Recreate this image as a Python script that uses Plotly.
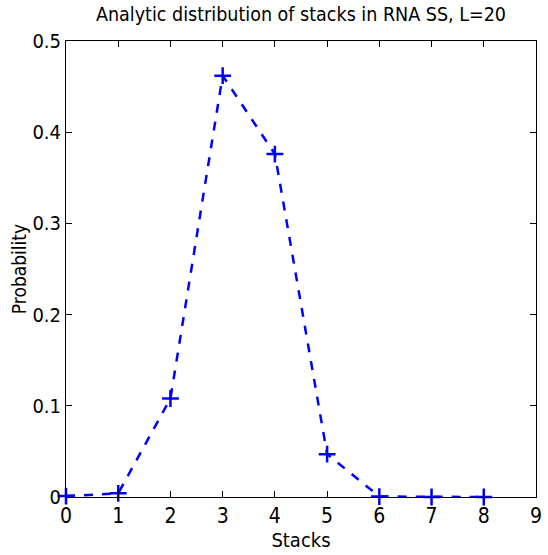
import plotly.graph_objects as go

stacks = [0, 1, 2, 3, 4, 5, 6, 7, 8]
probability = [0.001, 0.004, 0.108, 0.462, 0.376, 0.047, 0.0005, 0.0, 0.0]
x_ticks = [0, 1, 2, 3, 4, 5, 6, 7, 8, 9]
y_ticks = [0, 0.1, 0.2, 0.3, 0.4, 0.5]
y_tick_text = ["0", "0.1", "0.2", "0.3", "0.4", "0.5"]

FONT = "DejaVu Sans Condensed, Liberation Sans Narrow, Liberation Sans, Arial, sans-serif"

fig = go.Figure()
fig.add_trace(go.Scatter(
    x=stacks, y=probability, mode="lines+markers",
    line=dict(color="#0000ff", width=2.5, dash="dash"),
    marker=dict(symbol="cross-thin", size=12, line=dict(color="#0000ff", width=2.5)),
    cliponaxis=False, showlegend=False,
))

fig.update_layout(
    width=548, height=555,
    margin=dict(l=66, r=6, t=41, b=58),
    paper_bgcolor="white", plot_bgcolor="white",
    font=dict(family=FONT, color="black"),
    title=dict(text="Analytic distribution of stacks in RNA SS, L=20",
               xref="paper", x=0.5, xanchor="center", y=0.986, yanchor="top",
               font=dict(size=19.5, family=FONT)),
)
fig.update_xaxes(
    range=[0, 9], tickvals=x_ticks, ticks="inside", ticklen=6, tickcolor="black",
    showline=True, linecolor="black", linewidth=1, mirror="allticks",
    showgrid=False, zeroline=False, tickfont=dict(size=21, family=FONT),
    ticklabeloverflow="allow",
    title=dict(text="Stacks", font=dict(size=20, family=FONT), standoff=4),
)
fig.update_yaxes(
    range=[0, 0.5], tickvals=y_ticks, ticktext=y_tick_text, ticks="inside", ticklen=6,
    tickcolor="black", showline=True, linecolor="black", linewidth=1, mirror="allticks",
    showgrid=False, zeroline=False, tickfont=dict(size=20, family=FONT),
    ticklabeloverflow="allow",
    title=dict(text="Probability", font=dict(size=19, family=FONT), standoff=0),
)

fig.write_html("out.html")
